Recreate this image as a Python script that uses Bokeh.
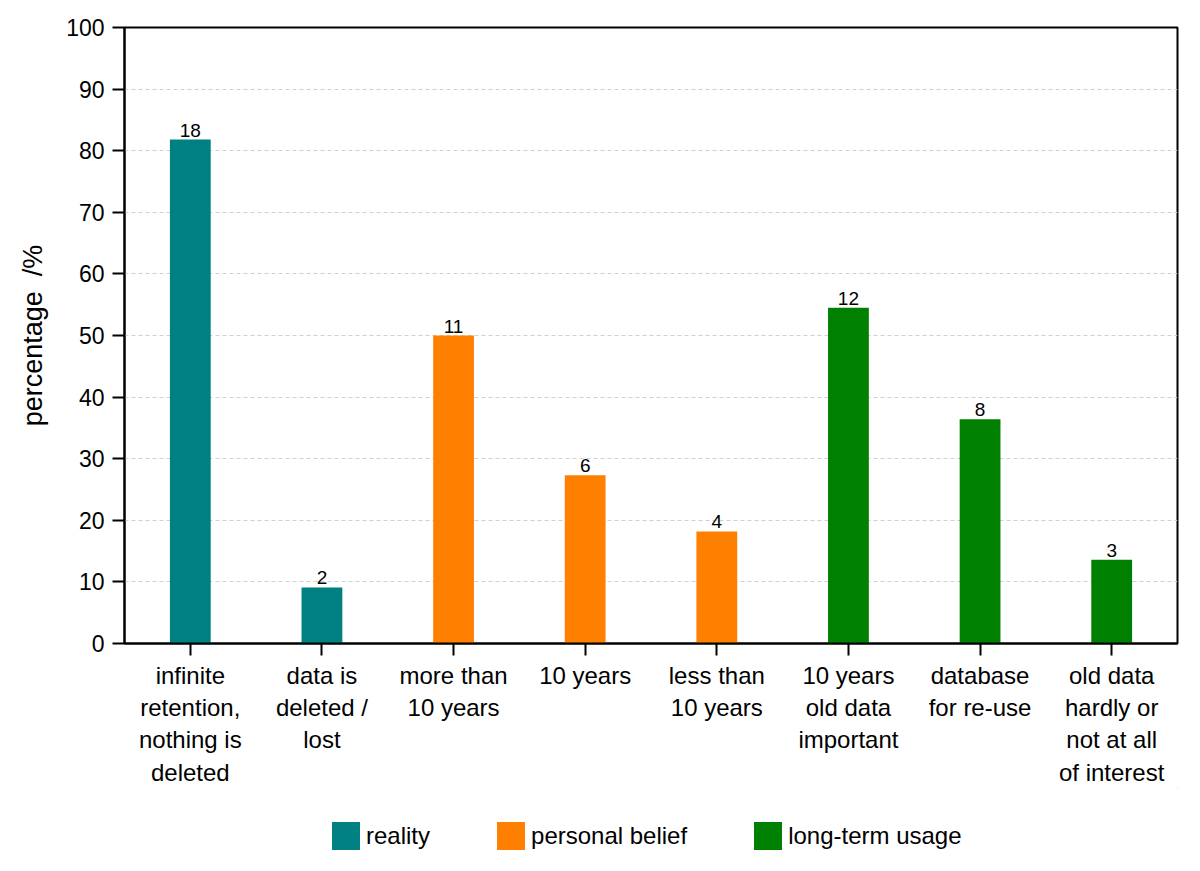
from bokeh.plotting import figure
from bokeh.layouts import column
from bokeh.models import ColumnDataSource, FactorRange, Legend, LegendItem, FixedTicker, Range1d
from bokeh.embed import file_html
from bokeh.resources import INLINE
from bokeh.core.properties import value

categories = ["infinite\nretention,\nnothing is\ndeleted", "data is\ndeleted /\nlost",
              "more than\n10 years", "10 years", "less than\n10 years",
              "10 years\nold data\nimportant", "database\nfor re-use",
              "old data\nhardly or\nnot at all\nof interest"]
groups = ["reality", "reality", "personal belief", "personal belief", "personal belief",
          "long-term usage", "long-term usage", "long-term usage"]
percentages = [81.8, 9.1, 50.0, 27.3, 18.2, 54.5, 36.4, 13.6]
counts = ["18", "2", "11", "6", "4", "12", "8", "3"]
group_names = ["reality", "personal belief", "long-term usage"]
group_colors = ["#008080", "#FF8000", "#008000"]
y_ticks = [0, 10, 20, 30, 40, 50, 60, 70, 80, 90, 100]

FONT = "Liberation Sans"

p = figure(x_range=FactorRange(*categories), y_range=Range1d(0, 100),
           frame_width=1053, frame_height=616, output_backend="svg", toolbar_location=None,
           min_border_left=124, min_border_right=15, min_border_top=27, min_border_bottom=0)

for g, c in zip(group_names, group_colors):
    idx = [i for i, gg in enumerate(groups) if gg == g]
    src = ColumnDataSource(dict(x=[categories[i] for i in idx],
                                top=[percentages[i] for i in idx],
                                lab=[counts[i] for i in idx]))
    p.vbar(x="x", top="top", width=0.31, source=src, fill_color=c, line_color=None)
    p.text(x="x", y="top", text="lab", source=src, text_align="center", text_baseline="bottom",
           text_font=value(FONT), text_font_size="19px", text_color="black", y_offset=-3)

p.outline_line_color = "black"
p.outline_line_width = 2
p.xgrid.grid_line_color = None
p.ygrid.grid_line_color = "#cfcfcf"
p.ygrid.grid_line_dash = "4 3"
p.ygrid.grid_line_width = 1

p.yaxis.ticker = FixedTicker(ticks=y_ticks)
p.yaxis.axis_label = "percentage \u00a0/%"
p.yaxis.axis_label_text_font = FONT
p.yaxis.axis_label_text_font_size = "27px"
p.yaxis.axis_label_text_font_style = "normal"
p.yaxis.axis_label_text_color = "black"
p.yaxis.axis_label_standoff = 15

for ax in (p.xaxis, p.yaxis):
    ax.axis_line_color = "black"
    ax.axis_line_width = 2
    ax.major_tick_line_color = "black"
    ax.major_tick_line_width = 2
    ax.major_tick_out = 12
    ax.major_tick_in = 0
    ax.minor_tick_line_color = None
    ax.major_label_text_font = FONT
    ax.major_label_text_color = "black"

p.yaxis.major_label_text_font_size = "23px"
p.yaxis.major_label_standoff = 8
p.xaxis.major_label_text_font_size = "24px"
p.xaxis.major_label_text_line_height = 1.2
p.xaxis.major_label_standoff = 6
p.xaxis.major_label_orientation = "horizontal"
p.x_range.range_padding = 0
p.x_range.group_padding = 0

# legend in a separate strip below the chart
lg = figure(width=1192, height=70, output_backend="svg", toolbar_location=None,
            x_range=Range1d(0, 1), y_range=Range1d(0, 1),
            min_border=0)
lg.axis.visible = False
lg.grid.visible = False
lg.outline_line_color = None
items = []
for g, c in zip(group_names, group_colors):
    # legend swatch only: bar sits outside the strip's visible range
    r = lg.vbar(x=[5], top=[5], bottom=[4], width=0.1, fill_color=c, line_color=None)
    items.append(LegendItem(label=g, renderers=[r]))
legend = Legend(items=items, orientation="horizontal", location=(204, 5),
                glyph_width=35, glyph_height=35, label_text_font=FONT, label_text_font_size="24px",
                label_text_color="black", background_fill_alpha=0,
                label_standoff=3, spacing=63, padding=4, margin=0, border_line_color=None,
                label_height=28)
lg.add_layout(legend, "center")

open("out.html", "w").write(file_html(column(p, lg, spacing=0), INLINE))
